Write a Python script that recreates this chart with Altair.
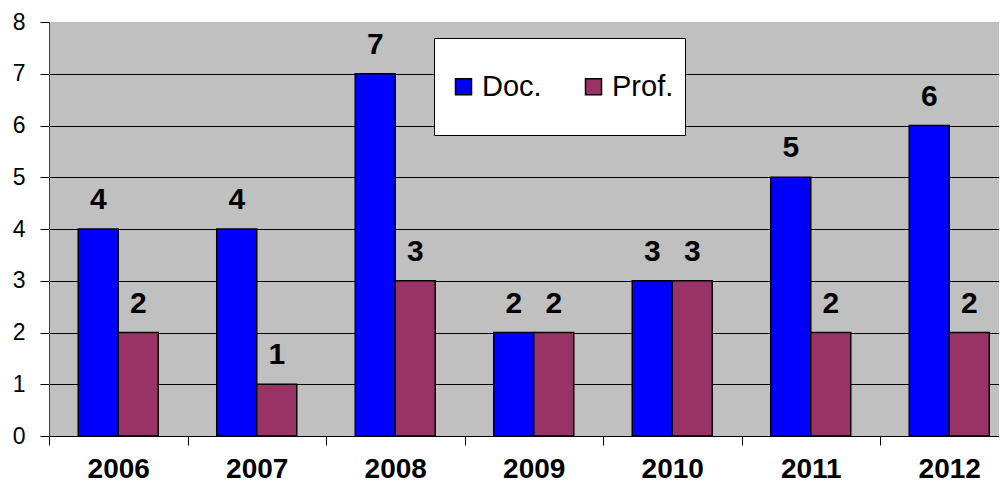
import altair as alt
import pandas as pd

years = ["2006", "2007", "2008", "2009", "2010", "2011", "2012"]
series_names = ["Doc.", "Prof."]
doc_values = [4, 4, 7, 2, 3, 5, 6]
prof_values = [2, 1, 3, 2, 3, 2, 2]
y_ticks = [0, 1, 2, 3, 4, 5, 6, 7, 8]
colors = ["#0000FF", "#993366"]

rows = []
for i, yr in enumerate(years):
    rows.append({"year": yr, "series": series_names[0], "value": doc_values[i]})
    rows.append({"year": yr, "series": series_names[1], "value": prof_values[i]})
df = pd.DataFrame(rows)

FONT = "Arial, Liberation Sans, Helvetica, sans-serif"

x_enc = alt.X(
    "year:N",
    sort=years,
    scale=alt.Scale(range=[0, 969.5], paddingInner=0, paddingOuter=0),
    axis=alt.Axis(
        title=None,
        labelAngle=0,
        labelFont=FONT,
        labelFontSize=28,
        labelFontWeight="bold",
        labelColor="black",
        labelBaseline="alphabetic",
        labelPadding=32,
        tickBand="extent",
        tickSize=9,
        tickColor="black",
        domainColor="black",
        grid=False,
    ),
)
xoff = alt.XOffset(
    "series:N",
    sort=series_names,
    scale=alt.Scale(paddingOuter=0.731, paddingInner=0),
)
y_enc = alt.Y(
    "value:Q",
    scale=alt.Scale(domain=[0, 8], nice=False),
    axis=alt.Axis(
        title=None,
        values=y_ticks,
        labelFont=FONT,
        labelFontSize=23,
        labelColor="black",
        labelPadding=15,
        tickSize=9,
        tickColor="black",
        domainColor="#404040",
        grid=True,
        gridColor="black",
        gridWidth=1,
        gridOpacity={"condition": {"test": "datum.value == 8", "value": 0}, "value": 1},
    ),
)

bars = alt.Chart(df).mark_bar(stroke="black", strokeWidth=1.5).encode(
    x=x_enc,
    xOffset=xoff,
    y=y_enc,
    color=alt.Color(
        "series:N",
        sort=series_names,
        scale=alt.Scale(domain=series_names, range=colors),
        legend=alt.Legend(
            title=None,
            orient="none",
            legendX=400,
            legendY=50,
            direction="horizontal",
            symbolType="square",
            symbolSize=256,
            symbolStrokeColor="black",
            symbolStrokeWidth=1.5,
            labelFont=FONT,
            labelFontSize=29,
            labelColor="black",
            labelOffset=4,
            columnPadding=37,
            padding=0,
        ),
    ),
)

labels = alt.Chart(df).mark_text(
    font=FONT, fontSize=30, fontWeight="bold", color="black",
    baseline="alphabetic", dy=-20,
).encode(
    x=alt.X("year:N", sort=years),
    xOffset=alt.XOffset("series:N", sort=series_names),
    y=alt.Y("value:Q"),
    text=alt.Text("value:Q"),
)

legend_box = alt.Chart(pd.DataFrame({"k": [0]})).mark_rect(
    fill="white", stroke="black", strokeWidth=1
).encode(
    x=alt.value(385.5), x2=alt.value(636.5), y=alt.value(16.5), y2=alt.value(113.5)
)

chart = alt.layer(bars, labels, legend_box).properties(
    width=950,
    height=414,
    autosize=alt.AutoSizeParams(type="none"),
    padding={"left": 41, "top": 14, "right": 0, "bottom": 48},
    background="white",
).configure_view(stroke=None, fill="#C0C0C0")

chart.save("out.html", embed_options={"renderer": "svg", "actions": False})
